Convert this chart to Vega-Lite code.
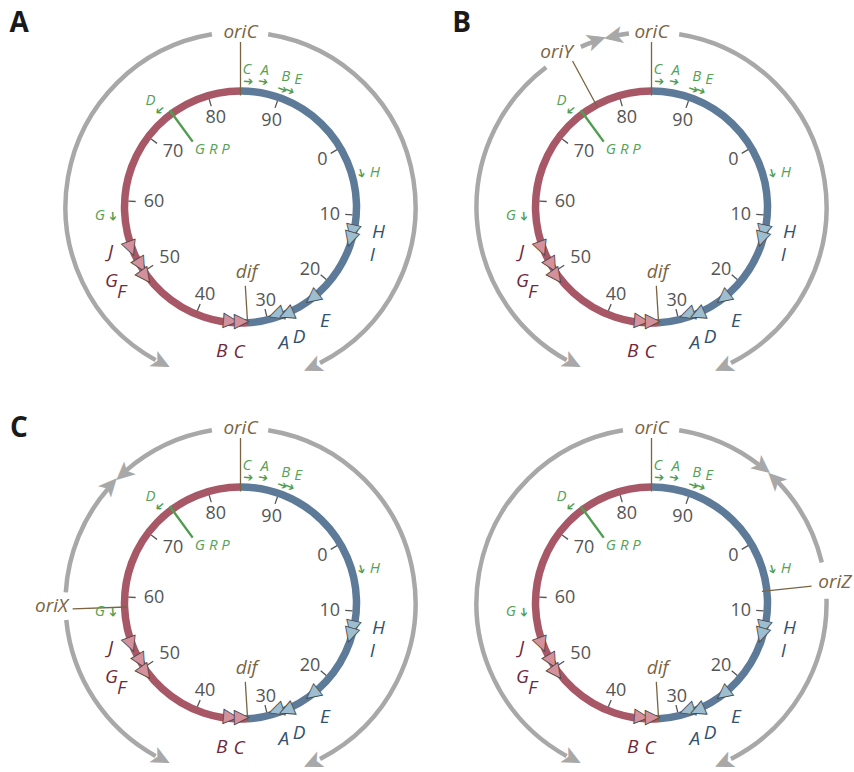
{
  "$schema": "https://vega.github.io/schema/vega-lite/v6.json",
  "background": "white",
  "padding": {"left": 9, "top": 9, "right": 0, "bottom": 0},
  "bounds": "flush",
  "config": {"view": {"stroke": null}},
  "data": {
    "values": [
      {"kind": "track", "panels": ["A", "B", "C"], "deg": 9.1, "deg2": 153, "r": 1.509},
      {"kind": "track", "panels": ["A", "D"], "deg": 209, "deg2": 350.6, "r": 1.509},
      {"kind": "track", "panels": ["B"], "deg": 348, "deg2": 352.6, "r": 1.509},
      {"kind": "track", "panels": ["B"], "deg": 336.2, "deg2": 341, "r": 1.509},
      {"kind": "track", "panels": ["B"], "deg": 209, "deg2": 323, "r": 1.509},
      {"kind": "track", "panels": ["C"], "deg": 319, "deg2": 350.6, "r": 1.509},
      {"kind": "track", "panels": ["C"], "deg": 273.5, "deg2": 311, "r": 1.509},
      {"kind": "track", "panels": ["C"], "deg": 209, "deg2": 264.4, "r": 1.509},
      {"kind": "track", "panels": ["D"], "deg": 9.1, "deg2": 38, "r": 1.509},
      {"kind": "track", "panels": ["D"], "deg": 46, "deg2": 76.6, "r": 1.509},
      {"kind": "track", "panels": ["D"], "deg": 88.6, "deg2": 153, "r": 1.509},

      {"kind": "head", "dir": "cw", "panels": ["A", "B", "C", "D"], "deg": 155.5, "r": 1.509},
      {"kind": "head", "dir": "ccw", "panels": ["A", "B", "C", "D"], "deg": 207.2, "r": 1.509},
      {"kind": "head", "dir": "cw", "panels": ["B"], "deg": 341.6, "r": 1.509},
      {"kind": "head", "dir": "ccw", "panels": ["B"], "deg": 347.6, "r": 1.509},
      {"kind": "head", "dir": "cw", "panels": ["C"], "deg": 312, "r": 1.509},
      {"kind": "head", "dir": "ccw", "panels": ["C"], "deg": 318, "r": 1.509},
      {"kind": "head", "dir": "cw", "panels": ["D"], "deg": 39.1, "r": 1.509},
      {"kind": "head", "dir": "ccw", "panels": ["D"], "deg": 45.1, "r": 1.509},

      {"kind": "ring", "arm": "R", "panels": ["A", "B", "C", "D"], "deg": 0, "deg2": 176.5, "r": 1},
      {"kind": "ring", "arm": "L", "panels": ["A", "B", "C", "D"], "deg": 176.5, "deg2": 360, "r": 1},

      {"kind": "tick", "panels": ["A", "B", "C", "D"], "deg": 59.3, "r": 0.905, "r2": 0.968},
      {"kind": "tick", "panels": ["A", "B", "C", "D"], "deg": 94, "r": 0.905, "r2": 0.968},
      {"kind": "tick", "panels": ["A", "B", "C", "D"], "deg": 130.2, "r": 0.905, "r2": 0.968},
      {"kind": "tick", "panels": ["A", "B", "C", "D"], "deg": 166.5, "r": 0.905, "r2": 0.968},
      {"kind": "tick", "panels": ["A", "B", "C", "D"], "deg": 202.6, "r": 0.905, "r2": 0.968},
      {"kind": "tick", "panels": ["A", "B", "C", "D"], "deg": 236.3, "r": 0.905, "r2": 0.968},
      {"kind": "tick", "panels": ["A", "B", "C", "D"], "deg": 273, "r": 0.905, "r2": 0.968},
      {"kind": "tick", "panels": ["A", "B", "C", "D"], "deg": 307.3, "r": 0.905, "r2": 0.968},
      {"kind": "tick", "panels": ["A", "B", "C", "D"], "deg": 343.8, "r": 0.905, "r2": 0.968},
      {"kind": "tick", "panels": ["A", "B", "C", "D"], "deg": 19.2, "r": 0.905, "r2": 0.968},

      {"kind": "scale", "panels": ["A", "B", "C", "D"], "label": "0", "deg": 60, "r": 0.815},
      {"kind": "scale", "panels": ["A", "B", "C", "D"], "label": "10", "deg": 95, "r": 0.772},
      {"kind": "scale", "panels": ["A", "B", "C", "D"], "label": "20", "deg": 132, "r": 0.806},
      {"kind": "scale", "panels": ["A", "B", "C", "D"], "label": "30", "deg": 165, "r": 0.842},
      {"kind": "scale", "panels": ["A", "B", "C", "D"], "label": "40", "deg": 202, "r": 0.815},
      {"kind": "scale", "panels": ["A", "B", "C", "D"], "label": "50", "deg": 234, "r": 0.755},
      {"kind": "scale", "panels": ["A", "B", "C", "D"], "label": "60", "deg": 273, "r": 0.746},
      {"kind": "scale", "panels": ["A", "B", "C", "D"], "label": "70", "deg": 309, "r": 0.749},
      {"kind": "scale", "panels": ["A", "B", "C", "D"], "label": "80", "deg": 344.6, "r": 0.8},
      {"kind": "scale", "panels": ["A", "B", "C", "D"], "label": "90", "deg": 20, "r": 0.785},

      {"kind": "lead", "panels": ["A", "B", "C", "D"], "deg": 0, "r": 0.961, "r2": 1.422},
      {"kind": "lead", "panels": ["A", "B", "C", "D"], "deg": 176.5, "r": 0.681, "r2": 1.023},
      {"kind": "lead", "panels": ["B"], "deg": 331.6, "r": 0.983, "r2": 1.431},
      {"kind": "lead", "panels": ["C"], "deg": 268, "r": 0.983, "r2": 1.448},
      {"kind": "lead", "panels": ["D"], "deg": 84, "r": 0.957, "r2": 1.388},
      {"kind": "grpline", "panels": ["A", "B", "C", "D"], "deg": 323.8, "r": 0.698, "r2": 1.034},

      {"kind": "ori", "panels": ["A", "B", "C", "D"], "label": "oriC", "deg": 0, "r": 1.509},
      {"kind": "ori", "panels": ["A", "B", "C", "D"], "label": "dif", "deg": 174.7, "r": 0.565},
      {"kind": "ori", "panels": ["B"], "label": "oriY", "deg": 328.5, "r": 1.566},
      {"kind": "ori", "panels": ["C"], "label": "oriX", "deg": 269, "r": 1.629},
      {"kind": "ori", "panels": ["D"], "label": "oriZ", "deg": 83.5, "r": 1.591},

      {"kind": "rrn", "panels": ["A", "B", "C", "D"], "label": "C", "deg": 2.7, "r": 1.187},
      {"kind": "rrn", "panels": ["A", "B", "C", "D"], "label": "A", "deg": 10, "r": 1.203},
      {"kind": "rrn", "panels": ["A", "B", "C", "D"], "label": "B", "deg": 19, "r": 1.198},
      {"kind": "rrn", "panels": ["A", "B", "C", "D"], "label": "E", "deg": 24.2, "r": 1.21},
      {"kind": "rrn", "panels": ["A", "B", "C", "D"], "label": "D", "deg": 319.9, "r": 1.205},
      {"kind": "rrn", "panels": ["A", "B", "C", "D"], "label": "H", "deg": 75.5, "r": 1.196},
      {"kind": "rrn", "panels": ["A", "B", "C", "D"], "label": "G", "deg": 266.9, "r": 1.215},
      {"kind": "rrn", "panels": ["A", "B", "C", "D"], "label": "G R P", "deg": 333.9, "r": 0.552},

      {"kind": "promoter", "dir": "cw", "panels": ["A", "B", "C", "D"], "deg": 3.5, "r": 1.086},
      {"kind": "promoter", "dir": "cw", "panels": ["A", "B", "C", "D"], "deg": 10.2, "r": 1.099},
      {"kind": "promoter", "dir": "cw", "panels": ["A", "B", "C", "D"], "deg": 19.6, "r": 1.078},
      {"kind": "promoter", "dir": "cw", "panels": ["A", "B", "C", "D"], "deg": 22.9, "r": 1.09},
      {"kind": "promoter", "dir": "cw", "panels": ["A", "B", "C", "D"], "deg": 74.4, "r": 1.083},
      {"kind": "promoter", "dir": "ccw", "panels": ["A", "B", "C", "D"], "deg": 320.1, "r": 1.084},
      {"kind": "promoter", "dir": "ccw", "panels": ["A", "B", "C", "D"], "deg": 265.9, "r": 1.101},

      {"kind": "ter", "arm": "L", "panels": ["A", "B", "C", "D"], "label": "B", "deg": 185, "r": 0.997},
      {"kind": "ter", "arm": "L", "panels": ["A", "B", "C", "D"], "label": "C", "deg": 179.5, "r": 0.997},
      {"kind": "ter", "arm": "R", "panels": ["A", "B", "C", "D"], "label": "A", "deg": 161.6, "r": 0.985},
      {"kind": "ter", "arm": "R", "panels": ["A", "B", "C", "D"], "label": "D", "deg": 156.8, "r": 1.017},
      {"kind": "ter", "arm": "R", "panels": ["A", "B", "C", "D"], "label": "E", "deg": 141.7, "r": 1.009},
      {"kind": "ter", "arm": "R", "panels": ["A", "B", "C", "D"], "label": "H", "deg": 102.6, "r": 0.995},
      {"kind": "ter", "arm": "R", "panels": ["A", "B", "C", "D"], "label": "I", "deg": 106.3, "r": 0.997},
      {"kind": "ter", "arm": "L", "panels": ["A", "B", "C", "D"], "label": "J", "deg": 249.3, "r": 1.02},
      {"kind": "ter", "arm": "L", "panels": ["A", "B", "C", "D"], "label": "G", "deg": 239.8, "r": 1.004},
      {"kind": "ter", "arm": "L", "panels": ["A", "B", "C", "D"], "label": "F", "deg": 233.9, "r": 1.026},

      {"kind": "terlabel", "arm": "L", "panels": ["A", "B", "C", "D"], "label": "B", "deg": 187.5, "r": 1.248},
      {"kind": "terlabel", "arm": "L", "panels": ["A", "B", "C", "D"], "label": "C", "deg": 180.6, "r": 1.252},
      {"kind": "terlabel", "arm": "R", "panels": ["A", "B", "C", "D"], "label": "A", "deg": 162.4, "r": 1.232},
      {"kind": "terlabel", "arm": "R", "panels": ["A", "B", "C", "D"], "label": "D", "deg": 155.8, "r": 1.231},
      {"kind": "terlabel", "arm": "R", "panels": ["A", "B", "C", "D"], "label": "E", "deg": 143.4, "r": 1.219},
      {"kind": "terlabel", "arm": "R", "panels": ["A", "B", "C", "D"], "label": "H", "deg": 100.1, "r": 1.209},
      {"kind": "terlabel", "arm": "R", "panels": ["A", "B", "C", "D"], "label": "I", "deg": 109.9, "r": 1.208},
      {"kind": "terlabel", "arm": "L", "panels": ["A", "B", "C", "D"], "label": "J", "deg": 250.8, "r": 1.186},
      {"kind": "terlabel", "arm": "L", "panels": ["A", "B", "C", "D"], "label": "G", "deg": 240.3, "r": 1.28},
      {"kind": "terlabel", "arm": "L", "panels": ["A", "B", "C", "D"], "label": "F", "deg": 234.4, "r": 1.262},

      {"kind": "letter", "panels": ["A"], "label": "A", "deg": 309.5, "r": 2.474},
      {"kind": "letter", "panels": ["B"], "label": "B", "deg": 314, "r": 2.275},
      {"kind": "letter", "panels": ["C"], "label": "C", "deg": 308.2, "r": 2.432}
    ]
  },
  "transform": [{"flatten": ["panels"], "as": ["panel"]}],
  "facet": {
    "field": "panel",
    "type": "nominal",
    "header": {"title": null, "labels": false, "labelExpr": "''", "labelFontSize": 0, "labelPadding": 0}
  },
  "columns": 2,
  "spacing": {"row": 56, "column": 8},
  "spec": {
    "width": 403,
    "height": 340,
    "resolve": {"scale": {"angle": "independent"}},
    "layer": [
      {
        "transform": [{"filter": "datum.kind == 'track'"}],
        "mark": {"type": "arc", "filled": false, "stroke": "#a8a8a8", "strokeWidth": 4.5},
        "encoding": {
          "theta": {"field": "deg", "type": "quantitative", "stack": null, "scale": {"domain": [0, 360], "range": [0, 6.283185307179586]}},
          "theta2": {"field": "deg2"},
          "radius": {"field": "r", "type": "quantitative", "scale": {"type": "linear", "domain": [0, 1], "range": [0, 116]}},
          "radius2": {"field": "r"}
        }
      },
      {
        "transform": [{"filter": "datum.kind == 'ring'"}],
        "mark": {"type": "arc", "filled": false, "strokeWidth": 7.5},
        "encoding": {
          "theta": {"field": "deg", "type": "quantitative", "stack": null, "scale": {"domain": [0, 360], "range": [0, 6.283185307179586]}},
          "theta2": {"field": "deg2"},
          "radius": {"field": "r", "type": "quantitative", "scale": {"type": "linear", "domain": [0, 1], "range": [0, 116]}},
          "radius2": {"field": "r"},
          "stroke": {"condition": {"test": "datum.arm == 'L'", "value": "#a85766"}, "value": "#5d7b99"}
        }
      },
      {
        "transform": [{"filter": "datum.kind == 'tick'"}],
        "mark": {"type": "arc", "filled": false, "stroke": "#555555", "strokeWidth": 1.3},
        "encoding": {
          "theta": {"field": "deg", "type": "quantitative", "stack": null, "scale": {"domain": [0, 360], "range": [0, 6.283185307179586]}},
          "theta2": {"field": "deg"},
          "radius": {"field": "r", "type": "quantitative", "scale": {"type": "linear", "domain": [0, 1], "range": [0, 116]}},
          "radius2": {"field": "r2"}
        }
      },
      {
        "transform": [{"filter": "datum.kind == 'lead'"}],
        "mark": {"type": "arc", "filled": false, "stroke": "#7a6441", "strokeWidth": 1.3},
        "encoding": {
          "theta": {"field": "deg", "type": "quantitative", "stack": null, "scale": {"domain": [0, 360], "range": [0, 6.283185307179586]}},
          "theta2": {"field": "deg"},
          "radius": {"field": "r", "type": "quantitative", "scale": {"type": "linear", "domain": [0, 1], "range": [0, 116]}},
          "radius2": {"field": "r2"}
        }
      },
      {
        "transform": [{"filter": "datum.kind == 'grpline'"}],
        "mark": {"type": "arc", "filled": false, "stroke": "#4f9d4f", "strokeWidth": 2.4},
        "encoding": {
          "theta": {"field": "deg", "type": "quantitative", "stack": null, "scale": {"domain": [0, 360], "range": [0, 6.283185307179586]}},
          "theta2": {"field": "deg"},
          "radius": {"field": "r", "type": "quantitative", "scale": {"type": "linear", "domain": [0, 1], "range": [0, 116]}},
          "radius2": {"field": "r2"}
        }
      },
      {
        "transform": [{"filter": "datum.kind == 'scale'"}],
        "mark": {"type": "text", "font": "Open Sans", "fontSize": 18, "fill": "#555555"},
        "encoding": {
          "theta": {"field": "deg", "type": "quantitative", "scale": {"domain": [0, 360], "range": [0, 6.283185307179586]}},
          "radius": {"field": "r", "type": "quantitative", "scale": {"type": "linear", "domain": [0, 1], "range": [0, 116]}},
          "text": {"field": "label"}
        }
      },
      {
        "transform": [{"filter": "datum.kind == 'ori'"}],
        "mark": {"type": "text", "font": "Open Sans", "fontStyle": "italic", "fontSize": 19, "fill": "#7a6441"},
        "encoding": {
          "theta": {"field": "deg", "type": "quantitative", "scale": {"domain": [0, 360], "range": [0, 6.283185307179586]}},
          "radius": {"field": "r", "type": "quantitative", "scale": {"type": "linear", "domain": [0, 1], "range": [0, 116]}},
          "text": {"field": "label"}
        }
      },
      {
        "transform": [{"filter": "datum.kind == 'rrn'"}],
        "mark": {"type": "text", "font": "Open Sans", "fontStyle": "italic", "fontSize": 15, "fill": "#55a255"},
        "encoding": {
          "theta": {"field": "deg", "type": "quantitative", "scale": {"domain": [0, 360], "range": [0, 6.283185307179586]}},
          "radius": {"field": "r", "type": "quantitative", "scale": {"type": "linear", "domain": [0, 1], "range": [0, 116]}},
          "text": {"field": "label"}
        }
      },
      {
        "transform": [{"filter": "datum.kind == 'terlabel'"}],
        "mark": {"type": "text", "font": "Open Sans", "fontStyle": "italic", "fontSize": 19},
        "encoding": {
          "theta": {"field": "deg", "type": "quantitative", "scale": {"domain": [0, 360], "range": [0, 6.283185307179586]}},
          "radius": {"field": "r", "type": "quantitative", "scale": {"type": "linear", "domain": [0, 1], "range": [0, 116]}},
          "text": {"field": "label"},
          "fill": {"condition": {"test": "datum.arm == 'L'", "value": "#6e2a3c"}, "value": "#33526e"}
        }
      },
      {
        "transform": [{"filter": "datum.kind == 'letter'"}],
        "mark": {"type": "text", "font": "Open Sans", "fontWeight": "bold", "fontSize": 28, "fill": "#1a1a1a"},
        "encoding": {
          "theta": {"field": "deg", "type": "quantitative", "scale": {"domain": [0, 360], "range": [0, 6.283185307179586]}},
          "radius": {"field": "r", "type": "quantitative", "scale": {"type": "linear", "domain": [0, 1], "range": [0, 116]}},
          "text": {"field": "label"}
        }
      },
      {
        "transform": [{"filter": "datum.kind == 'ter'"}],
        "mark": {"type": "text", "font": "DejaVu Sans", "fontSize": 19, "stroke": "#444444", "strokeWidth": 0.8},
        "encoding": {
          "theta": {"field": "deg", "type": "quantitative", "scale": {"domain": [0, 360], "range": [0, 6.283185307179586]}},
          "radius": {"field": "r", "type": "quantitative", "scale": {"type": "linear", "domain": [0, 1], "range": [0, 116]}},
          "text": {"condition": {"test": "datum.arm == 'L'", "value": "◀"}, "value": "▶"},
          "angle": {"field": "deg", "type": "quantitative", "scale": {"domain": [0, 360], "range": [0, 360]}},
          "fill": {"condition": {"test": "datum.arm == 'L'", "value": "#d4919b"}, "value": "#9dbdd0"}
        }
      },
      {
        "transform": [{"filter": "datum.kind == 'promoter' && datum.dir == 'cw'"}],
        "mark": {"type": "text", "font": "DejaVu Sans", "fontSize": 12, "fill": "#4f9d4f"},
        "encoding": {
          "theta": {"field": "deg", "type": "quantitative", "scale": {"domain": [0, 360], "range": [0, 6.283185307179586]}},
          "radius": {"field": "r", "type": "quantitative", "scale": {"type": "linear", "domain": [0, 1], "range": [0, 116]}},
          "text": {"value": "➔"},
          "angle": {"field": "deg", "type": "quantitative", "scale": {"domain": [0, 360], "range": [0, 360]}}
        }
      },
      {
        "transform": [{"filter": "datum.kind == 'promoter' && datum.dir == 'ccw'"}],
        "mark": {"type": "text", "font": "DejaVu Sans", "fontSize": 12, "fill": "#4f9d4f"},
        "encoding": {
          "theta": {"field": "deg", "type": "quantitative", "scale": {"domain": [0, 360], "range": [0, 6.283185307179586]}},
          "radius": {"field": "r", "type": "quantitative", "scale": {"type": "linear", "domain": [0, 1], "range": [0, 116]}},
          "text": {"value": "➔"},
          "angle": {"field": "deg", "type": "quantitative", "scale": {"domain": [0, 360], "range": [180, 540]}}
        }
      },
      {
        "transform": [{"filter": "datum.kind == 'head' && datum.dir == 'cw'"}],
        "mark": {"type": "text", "font": "DejaVu Sans", "fontSize": 27, "fill": "#a8a8a8"},
        "encoding": {
          "theta": {"field": "deg", "type": "quantitative", "scale": {"domain": [0, 360], "range": [0, 6.283185307179586]}},
          "radius": {"field": "r", "type": "quantitative", "scale": {"type": "linear", "domain": [0, 1], "range": [0, 116]}},
          "text": {"value": "➤"},
          "angle": {"field": "deg", "type": "quantitative", "scale": {"domain": [0, 360], "range": [0, 360]}}
        }
      },
      {
        "transform": [{"filter": "datum.kind == 'head' && datum.dir == 'ccw'"}],
        "mark": {"type": "text", "font": "DejaVu Sans", "fontSize": 27, "fill": "#a8a8a8"},
        "encoding": {
          "theta": {"field": "deg", "type": "quantitative", "scale": {"domain": [0, 360], "range": [0, 6.283185307179586]}},
          "radius": {"field": "r", "type": "quantitative", "scale": {"type": "linear", "domain": [0, 1], "range": [0, 116]}},
          "text": {"value": "➤"},
          "angle": {"field": "deg", "type": "quantitative", "scale": {"domain": [0, 360], "range": [180, 540]}}
        }
      }
    ]
  }
}
